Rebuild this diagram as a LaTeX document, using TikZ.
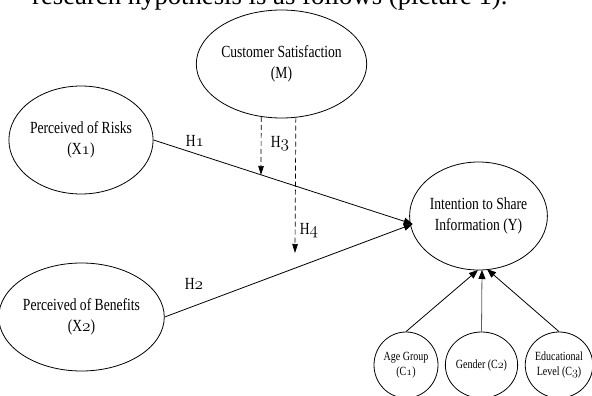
\documentclass[tikz,border=0pt]{standalone}
\usepackage{fontspec}
\setmainfont{Liberation Serif}
\newfontfamily\cond[FakeStretch=0.8]{Liberation Serif}
\usetikzlibrary{shapes.geometric,arrows.meta}
\newcommand\osn[1]{{\fontencoding{OML}\fontfamily{cmm}\fontseries{m}\fontshape{it}\selectfont #1}}
\tikzset{
  latent/.style={ellipse, draw, line width=0.8pt, minimum width=134pt, minimum height=108pt,
    inner sep=0pt, align=center, font=\cond\fontsize{17}{20.5}\selectfont},
  ctrl/.style={ellipse, draw, line width=0.8pt, minimum width=64pt, minimum height=66pt,
    inner sep=0pt, align=center, font=\cond\fontsize{12.5}{14.5}\selectfont},
  causal/.style={-{Triangle[length=9pt,width=7pt,color=black]}, line width=0.8pt},
  modarrow/.style={-{Triangle[length=9pt,width=5.5pt]}, line width=0.7pt, dash pattern=on 5pt off 3pt},
  hlab/.style={font=\cond\fontsize{17}{20}\selectfont, inner sep=0pt}
}
\begin{document}
\begin{tikzpicture}[x=1pt,y=-1pt]
\useasboundingbox (0,0) rectangle (592,396);
\begin{scope}
\clip (0,0) rectangle (592,396);
\node[anchor=base west, inner sep=0pt, font=\fontsize{26.7}{30}\selectfont] (intro) at (32,5)
  {research hypothesis is as follows (picture 1).};

\node[latent] (M)  at (281.5,64)  {Customer Satisfaction\\(M)};
\node[latent] (X1) at (81,140)    {Perceived of Risks\\(X\osn{1})};
\node[latent] (X2) at (81.5,317)  {Perceived of Benefits\\(X\osn{2})};
\node[latent, minimum width=133pt] (Y) at (478.5,216) {Intention to Share\\Information (Y)};

\node[ctrl] (C1) at (406,365)   {Age Group\\(C\osn{1})};
\node[ctrl] (C2) at (481.5,365) {Gender (C\osn{2})};
\node[ctrl] (C3) at (559,365)   {Educational\\Level (C\osn{3})};

\coordinate (yin) at (412.7,224);
\coordinate (h3tip) at (261,175);
\coordinate (h4tip) at (295,253);
\coordinate (yb1) at (478,270);
\coordinate (yb2) at (482,270);
\coordinate (yb3) at (487,269.1);

\draw[causal] (X1.east) -- (yin);
\draw[causal] (X2.east) -- (yin);
\draw[modarrow] (M.-111.7) -- (h3tip);
\draw[modarrow] (M.-75.7) -- (h4tip);

\draw[causal] (C1.north) -- (yb1);
\draw[causal, draw=gray!75!black] (C2.north) -- (yb2);
\draw[causal] (C3.north) -- (yb3);

\node[hlab] (h1) at (195,141) {H\osn{1}};
\node[hlab] (h2) at (194,284) {H\osn{2}};
\node[hlab] (h3) at (280,144) {H\osn{3}};
\node[hlab] (h4) at (309,231) {H\osn{4}};
\end{scope}
\end{tikzpicture}
\end{document}
